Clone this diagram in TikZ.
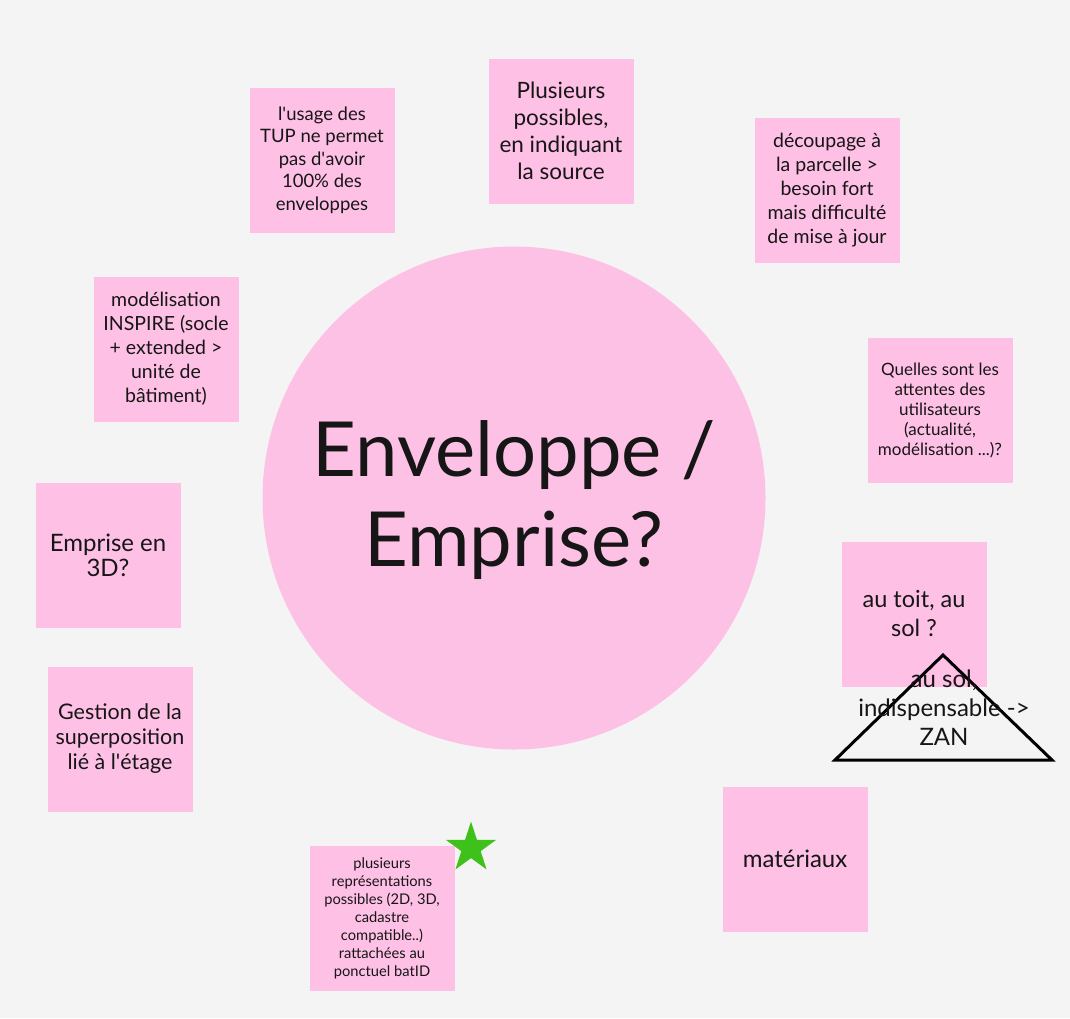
\documentclass[tikz,border=0pt]{standalone}
\usepackage{fontspec}
\setmainfont{Lato}
\usetikzlibrary{shapes.geometric}
\definecolor{bg}{HTML}{F4F4F4}
\definecolor{sticky}{HTML}{FFC0E6}
\definecolor{disc}{HTML}{FEC1E6}
\definecolor{ink}{HTML}{161616}
\definecolor{stargreen}{HTML}{3EC11A}
\newcommand{\apos}{\textquotesingle}
\begin{document}
\begin{tikzpicture}[x=1pt,y=-1pt,
  note/.style={fill=sticky, minimum width=145pt, minimum height=145pt,
    inner sep=0pt, align=center, text=ink},
  fs/.style 2 args={font=\fontsize{#1}{#2}\selectfont}]
% canvas
\fill[bg] (0,0) rectangle (1070,1018);
\useasboundingbox (0,0) rectangle (1070,1018);

% central topic
\node[circle, fill=disc, minimum size=503pt, inner sep=0pt] (hub) at (514,498) {};
\node[align=center, text=ink, fs={76}{90}] (title) at (514,500) {Enveloppe /\\Emprise?};

% sticky notes around the topic
\node[note, fs={18.5}{22.5}] (tup) at (322,160)
  {l\apos usage des\\TUP ne permet\\pas d\apos avoir\\100\% des\\enveloppes};
\node[note, fs={22.5}{27}] (sources) at (561,131)
  {Plusieurs\\possibles,\\en indiquant\\la source};
\node[note, fs={19.5}{24}] (parcelle) at (827,190)
  {découpage à\\la parcelle >\\besoin fort\\mais difficulté\\de mise à jour};
\node[note, fs={19.5}{24}] (inspire) at (166,349)
  {modélisation\\INSPIRE (socle\\+ extended >\\unité de\\bâtiment)};
\node[note, fs={17}{20}] (attentes) at (940,410)
  {Quelles sont les\\attentes des\\utilisateurs\\(actualité,\\modélisation ...)?};
\node[note, fs={24}{25}] (emprise3d) at (108,555) {Emprise en\\3D?};
\node[note, fs={23.5}{29}] (toit) at (914,614) {au toit, au\\sol ?};
\node[note, fs={21.5}{25}] (etage) at (120,739)
  {Gestion de la\\superposition\\lié à l\apos étage};
\node[note, fs={24}{25}] (materiaux) at (795,859) {matériaux};
\node[note, fs={14.7}{18}] (representations) at (382,918)
  {plusieurs\\représentations\\possibles (2D, 3D,\\cadastre\\compatible..)\\rattachées au\\ponctuel batID};

% outlined triangle with its caption
\draw[line width=3pt, line join=miter] (943,655) -- (1052,760) -- (835,760) -- cycle;
\node[align=center, text=ink, fs={24}{29}] (zan) at (944,708)
  {au sol,\\indispensable ->\\ZAN};

% green star marker
\node[star, star points=5, star point ratio=2.618, fill=stargreen,
  minimum size=53pt, inner sep=0pt] (star) at (471,848) {};
\end{tikzpicture}
\end{document}
